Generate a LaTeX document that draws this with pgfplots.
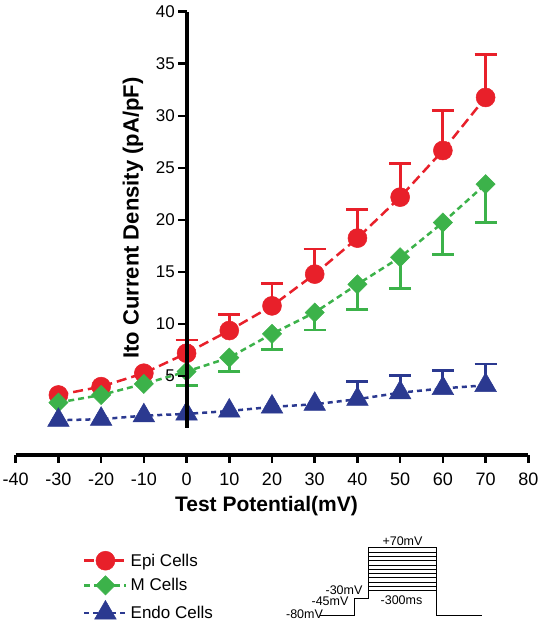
\documentclass[border=0pt]{standalone}
\usepackage{fontspec}
\setmainfont{Liberation Sans}
\usepackage{pgfplots}
\pgfplotsset{compat=1.18}
\definecolor{epi}{RGB}{232,32,42}
\definecolor{mcell}{RGB}{60,178,74}
\definecolor{endo}{RGB}{43,57,144}
\begin{document}
\begin{tikzpicture}
\useasboundingbox (0,0) rectangle (540pt,629pt);
% ---------------- main data axis (x axis offset below) ----------------
\begin{axis}[
  at={(15.7pt,174pt)}, anchor=south west,
  scale only axis, width=512.6pt, height=443.3pt,
  xmin=-40, xmax=80, ymin=-2.6, ymax=40,
  axis x line*=bottom, axis y line=none,
  x axis line style={line width=3.3pt,-},
  xtick={-40,-30,...,80},
  tick align=outside, major tick length=7.7pt,
  every tick/.style={black,line width=2.5pt},
  /pgf/number format/assume math mode=true,
  xticklabel style={font=\fontsize{18}{20}\selectfont, yshift=-7pt},
  xlabel={\bfseries Test Potential(mV)},
  xlabel style={at={(axis description cs:0.5,0)}, anchor=center, yshift=-51.5pt, xshift=-5.5pt, font=\fontsize{21}{24}\selectfont},
  clip=false,
  legend style={draw=none, fill=none, at={(axis description cs:0.1313,-0.2166)}, anchor=north west,
    font=\fontsize{17}{19}\selectfont, row sep=5.5pt, column sep=3pt, inner sep=0pt, nodes={inner sep=0pt}},
  legend cell align=left,
  legend image code/.code={\draw[mark repeat=2,mark phase=2] plot coordinates {(0pt,0pt) (21pt,0pt) (42pt,0pt)};},
]
% error bars (drawn first)
\addplot[forget plot, only marks, mark=none, error bars/.cd, y dir=plus, y explicit,
  error bar style={draw=epi, line width=2.8pt}, error mark options={rotate=90, draw=epi, line width=2.8pt, mark size=11pt}]
  coordinates {
  (0,7.18) +- (0,1.28)
  (10,9.36) +- (0,1.51)
  (20,11.73) +- (0,2.12)
  (30,14.78) +- (0,2.42)
  (40,18.24) +- (0,2.72)
  (50,22.18) +- (0,3.27)
  (60,26.66) +- (0,3.82)
  (70,31.76) +- (0,4.11)
  };
\addplot[forget plot, only marks, mark=none, error bars/.cd, y dir=minus, y explicit,
  error bar style={draw=mcell, line width=2.8pt}, error mark options={rotate=90, draw=mcell, line width=2.8pt, mark size=11pt}]
  coordinates {
  (0,5.42) +- (0,1.35)
  (10,6.76) +- (0,1.34)
  (20,9.04) +- (0,1.54)
  (30,11.09) +- (0,1.67)
  (40,13.8) +- (0,2.4)
  (50,16.4) +- (0,2.97)
  (60,19.74) +- (0,3.11)
  (70,23.43) +- (0,3.69)
  };
\addplot[forget plot, only marks, mark=none, error bars/.cd, y dir=plus, y explicit,
  error bar style={draw=endo, line width=2.8pt}, error mark options={rotate=90, draw=endo, line width=2.8pt, mark size=11pt}]
  coordinates {
  (40,2.76) +- (0,1.69)
  (50,3.39) +- (0,1.64)
  (60,3.8) +- (0,1.7)
  (70,4.1) +- (0,2.05)
  };
% series
\addplot[epi, line width=2.5pt, dash pattern=on 10pt off 5pt, mark=*, mark size=9.5pt,
  mark options={solid, fill=epi, draw=epi, line width=0.5pt}]
  coordinates {(-30,3.17) (-20,3.97) (-10,5.26) (0,7.18) (10,9.36) (20,11.73) (30,14.78) (40,18.24) (50,22.18) (60,26.66) (70,31.76)};
\addlegendentry{Epi Cells}
\addplot[mcell, line width=2.5pt, dash pattern=on 6pt off 4pt, mark=square*, mark size=6.8pt,
  mark options={solid, rotate=45, fill=mcell, draw=mcell, line width=0.5pt}]
  coordinates {(-30,2.44) (-20,3.17) (-10,4.23) (0,5.42) (10,6.76) (20,9.04) (30,11.09) (40,13.8) (50,16.4) (60,19.74) (70,23.43)};
\addlegendentry{M Cells}
\addplot[endo, line width=2.5pt, dash pattern=on 5pt off 4pt, mark=triangle*, mark size=12.5pt,
  mark options={solid, fill=endo, draw=endo, line width=0.5pt}]
  coordinates {(-30,0.74) (-20,0.84) (-10,1.18) (0,1.35) (10,1.63) (20,2.02) (30,2.28) (40,2.76) (50,3.39) (60,3.8) (70,4.1)};
\addlegendentry{Endo Cells}
\end{axis}
% ---------------- y axis at x = 0 ----------------
\begin{axis}[
  at={(187.3pt,201pt)}, anchor=south west,
  scale only axis, width=10pt, height=416.3pt,
  xmin=0, xmax=1, ymin=0, ymax=40,
  axis y line*=left, axis x line=none,
  y axis line style={line width=3.8pt,-},
  ytick={5,10,...,40},
  tick align=outside, major tick length=9pt,
  every tick/.style={black,line width=2.5pt},
  /pgf/number format/assume math mode=true,
  yticklabel style={font=\fontsize{17}{19}\selectfont},
  ylabel={\bfseries Ito Current Density (pA/pF)},
  ylabel style={at={(axis description cs:-5.43,0.5044)}, anchor=center, font=\fontsize{22}{26}\selectfont},
]
\end{axis}
% ---------------- voltage protocol inset ----------------
\begin{axis}[
  at={(280pt,4pt)}, anchor=south west,
  scale only axis, width=210pt, height=85pt,
  xmin=280, xmax=490, ymin=540, ymax=625, y dir=reverse,
  hide axis, clip=false,
  every axis plot post/.append style={black, mark=none, solid, line width=1pt},
  nodes={font=\fontsize{12.5}{14}\selectfont, inner sep=0pt},
]
\addplot coordinates {(320,615) (354,615) (354,599) (368,599) (368,548) (436,548) (436,615) (482,615)};
\addplot coordinates {(368,552.3) (436,552.3)};
\addplot coordinates {(368,556.6) (436,556.6)};
\addplot coordinates {(368,560.8) (436,560.8)};
\addplot coordinates {(368,565.1) (436,565.1)};
\addplot coordinates {(368,569.4) (436,569.4)};
\addplot coordinates {(368,573.7) (436,573.7)};
\addplot coordinates {(368,578.0) (436,578.0)};
\addplot coordinates {(368,582.2) (436,582.2)};
\addplot coordinates {(368,586.5) (436,586.5)};
\addplot coordinates {(368,590.8) (436,590.8)};
\node at (axis cs:402.5,541) {+70mV};
\node at (axis cs:344,590) {-30mV};
\node at (axis cs:330,601.5) {-45mV};
\node at (axis cs:401.5,600) {-300ms};
\node at (axis cs:304.5,614) {-80mV};
\end{axis}
\end{tikzpicture}
\end{document}
